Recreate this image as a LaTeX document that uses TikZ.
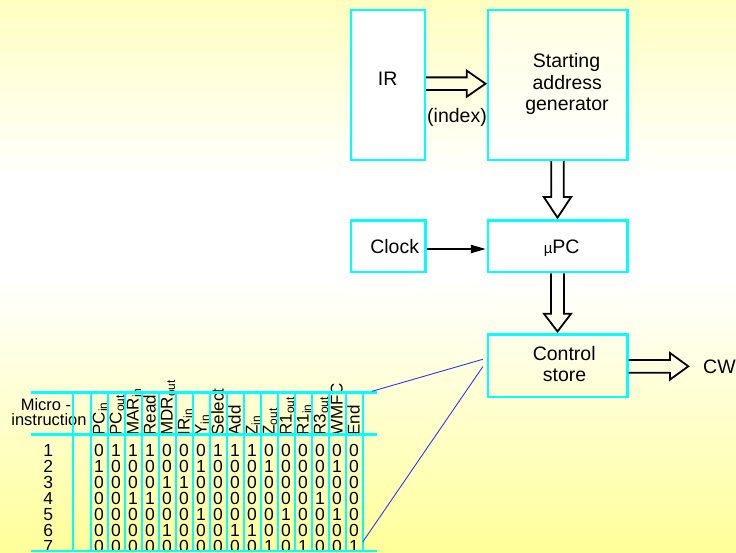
\documentclass[tikz,border=0pt]{standalone}
\usepackage{fontspec}
\setmainfont{Liberation Sans}
\usetikzlibrary{arrows.meta,calc}
\definecolor{bgtop}{HTML}{FFFFC0}
\definecolor{bgbot}{HTML}{FFFF99}
\definecolor{boxcyan}{HTML}{00FFFF}
\definecolor{linkblue}{HTML}{3333FF}
\definecolor{sagtop}{HTML}{FFFFE2}

\begin{document}
\begin{tikzpicture}[x=1pt,y=-1pt,
  blk/.style={draw=boxcyan, line width=2.4pt, inner sep=0pt},
  lbl/.style={inner sep=0pt, anchor=base, font=\fontsize{19.5}{21.5}\selectfont},
  hollow/.style={draw=black, line width=1.8pt, line join=miter},
  link/.style={draw=linkblue, line width=0.9pt},
  tick/.style={draw=black, line width=2pt, -{Triangle[length=15pt,width=8pt]}},
  gridh/.style={draw=boxcyan, line width=2.7pt},
  gridv/.style={draw=boxcyan, line width=2pt},
  hdr/.style={inner sep=0pt, rotate=90, anchor=base west, font=\fontsize{17}{17}\selectfont},
  bit/.style={inner sep=0pt, font=\fontsize{17.5}{17.5}\selectfont},
  capt/.style={inner sep=0pt, anchor=base, font=\fontsize{16.5}{16.5}\selectfont}]

\useasboundingbox (0,0) rectangle (736,553);

% background: yellow at the top, white in the middle, deeper yellow at the bottom
\fill[top color=bgtop, bottom color=white] (0,0) rectangle (736,180.5);
\fill[white] (0,180) rectangle (736,280.5);
\fill[top color=white, bottom color=bgbot] (0,280) rectangle (736,553);

% blocks
\node[blk, fill=white, minimum width=74pt, minimum height=150pt] (ir) at (388,85) {};
\node[blk, top color=sagtop, bottom color=white, minimum width=139.6pt, minimum height=150pt] (sag) at (557.5,85) {};
\node[blk, minimum width=74.3pt, minimum height=51.6pt] (clock) at (388.2,246.5) {};
\node[blk, minimum width=139.6pt, minimum height=51.6pt] (upc) at (557.5,246.5) {};
\node[blk, minimum width=139.6pt, minimum height=62.4pt] (cs) at (557.5,365.5) {};

% block texts
\node[lbl] (irtxt) at (387.7,86) {IR};
\node[lbl] (sag1) at (566.5,67.7) {Starting};
\node[lbl] (sag2) at (567.3,89.3) {address};
\node[lbl] (sag3) at (567,110.7) {generator};
\node[lbl] (index) at (457,123) {(index)};
\node[lbl] (clocktxt) at (394.7,254) {Clock};
\node[lbl] (upctxt) at (561.7,254) {{\fontsize{15}{15}\selectfont µ}PC};
\node[lbl] (cs1) at (564.2,360) {Control};
\node[lbl] (cs2) at (564.5,381) {store};
\node[lbl, anchor=base west] (cw) at (703,373.3) {CW};
\coordinate (cwtip) at (688.3,366.3);

% wide (bus) arrows
\draw[hollow] ($(ir.east)+(0,-7.6)$) -- ($(sag.west)+(-19.7,-7.6)$)
  -- ($(sag.west)+(-19.7,-14.3)$) -- ($(sag.west)+(-1,-1.3)$)
  -- ($(sag.west)+(-19.7,11.7)$) -- ($(sag.west)+(-19.7,5)$) -- ($(ir.east)+(0,5)$);
\draw[hollow] ($(sag.south)+(-6.3,0)$) -- ($(upc.north)+(-6.3,-22.5)$)
  -- ($(upc.north)+(-13.7,-22.5)$) -- ($(upc.north)+(0,-1.8)$)
  -- ($(upc.north)+(13.7,-22.5)$) -- ($(upc.north)+(6.3,-22.5)$) -- ($(sag.south)+(6.3,0)$);
\draw[hollow] ($(upc.south)+(-6.5,0)$) -- ($(cs.north)+(-6.5,-19.3)$)
  -- ($(cs.north)+(-13.5,-19.3)$) -- ($(cs.north)+(0,-1.6)$)
  -- ($(cs.north)+(13.5,-19.3)$) -- ($(cs.north)+(6.5,-19.3)$) -- ($(upc.south)+(6.5,0)$);
\draw[hollow] ($(cs.east)+(0,-5.5)$) -- ($(cwtip)+(-18.3,-6.3)$)
  -- ($(cwtip)+(-18.3,-13.3)$) -- (cwtip)
  -- ($(cwtip)+(-18.3,13.3)$) -- ($(cwtip)+(-18.3,6.4)$) -- ($(cs.east)+(0,7.2)$);

% clock line
\draw[tick] ([yshift=-2.5pt]clock.east) -- ([yshift=-2.5pt,xshift=-0.6pt]upc.west);

% microprogram table: captions, headers and bits
\node[capt] (micro1) at (46,410) {Micro -};
\node[capt] (micro2) at (49,425) {instruction};
\foreach \h [count=\j] in {PC\textsubscript{in}, PC\textsubscript{out}, MAR\textsubscript{in}, Read,
    MDR\textsubscript{out}, IR\textsubscript{in}, Y\textsubscript{in}, Select, Add,
    Z\textsubscript{in}, Z\textsubscript{out}, R1\textsubscript{out}, R1\textsubscript{in},
    R3\textsubscript{out}, WMFC, End}
  \node[hdr] (h\j) at ({87.5+17*\j},435.8) {\h};
\foreach \bits [count=\i] in {
    {0,1,1,1,0,0,0,1,1,1,0,0,0,0,0,0},
    {1,0,0,0,0,0,1,0,0,0,1,0,0,0,1,0},
    {0,0,0,0,1,1,0,0,0,0,0,0,0,0,0,0},
    {0,0,1,1,0,0,0,0,0,0,0,0,0,1,0,0},
    {0,0,0,0,0,0,1,0,0,0,0,1,0,0,1,0},
    {0,0,0,0,1,0,0,0,1,1,0,0,0,0,0,0},
    {0,0,0,0,0,0,0,0,0,0,1,0,1,0,0,1}} {
  \node[bit] (r\i) at ({48.3},{450+16.1*(\i-1)}) {\i};
  \foreach \b [count=\j] in \bits
    \node[bit] (b\i-\j) at ({82+17*\j},{450+16.1*(\i-1)}) {\b};
}

% table rules
\foreach \yy in {392.3,434.7,551}
  \draw[gridh] (30.7,\yy) -- (377,\yy);
\draw[gridv] (72.7,392.3) -- (72.7,551);
\foreach \k in {0,...,16}
  \draw[gridv] ({90.5+17*\k},392.3) -- ({90.5+17*\k},551);

% magnifier lines from the control store to the table
\coordinate (tabtop) at (372,391.3);
\coordinate (tabbot) at (362.7,542);
\draw[link] ($(cs.west)+(-3.7,-6.2)$) -- (tabtop);
\draw[link] ($(cs.west)+(-3.7,1.2)$) -- (tabbot);
\end{tikzpicture}
\end{document}
